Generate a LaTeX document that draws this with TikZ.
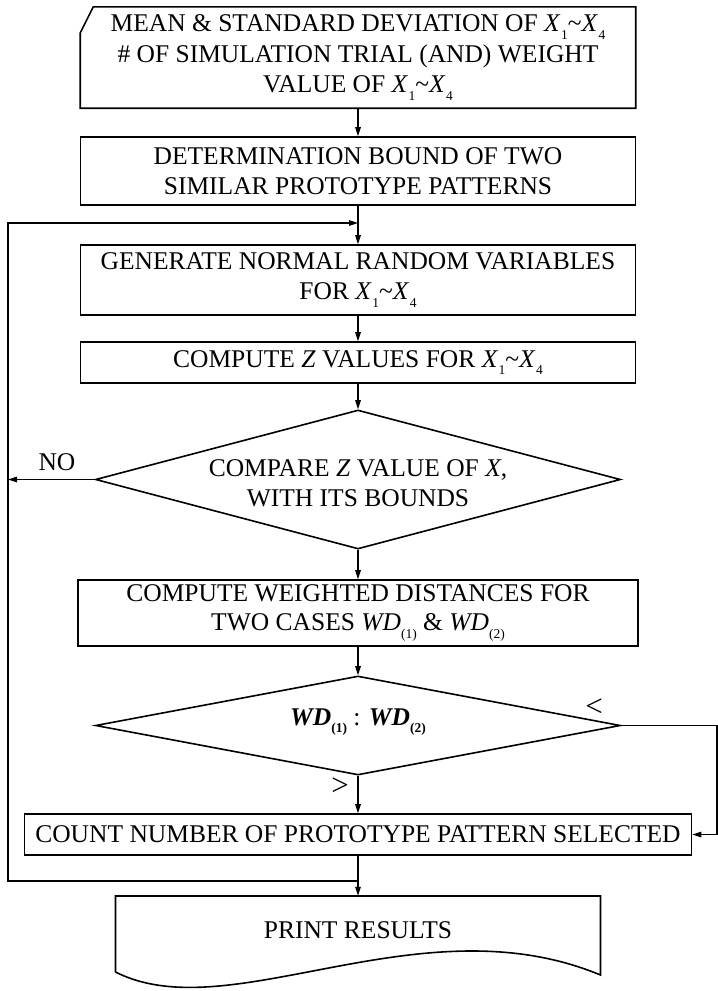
\documentclass[tikz,border=0pt]{standalone}
\usepackage{fontspec}
\setmainfont{Liberation Serif}
\usetikzlibrary{shapes.geometric,arrows.meta}
\newcommand\sbs[1]{\raisebox{-0.3em}{\fontsize{13.5bp}{13.5bp}\selectfont #1}}
\newcommand\Xs[1]{\textit{X}\kern0.02em\sbs{#1}}
\newcommand\rng{\Xs{1}\textasciitilde\Xs{4}}
\newcommand\WDs[1]{\textit{WD}\sbs{#1}}
\begin{document}
\begin{tikzpicture}[x=1bp,y=-1bp,
  txt/.style={font=\fontsize{25.5bp}{29.5bp}\selectfont, align=center, inner sep=0},
  box/.style={txt, draw, line width=1.6bp, minimum width=555bp},
  plain/.style={txt, minimum width=555bp},
  dia/.style={diamond, draw, line width=1.6bp, inner sep=0, minimum width=525bp},
  cmp/.style={font=\fontsize{31bp}{31bp}\selectfont, inner sep=0},
  conn/.style={line width=1.2bp},
  arr/.style={conn, -{Triangle[length=9bp,width=5.5bp]}}]
\useasboundingbox (0,0) rectangle (718,991);

% input card
\node[plain, minimum height=101bp, font=\fontsize{25.5bp}{30.5bp}\selectfont] (b1) at (358,57.5)
  {MEAN \& STANDARD DEVIATION OF \rng\\
   \# OF SIMULATION TRIAL (AND) WEIGHT\\
   VALUE OF \rng};
\draw[line width=1.6bp] ([yshift=-26bp]b1.north west) -- ([xshift=13bp]b1.north west)
  -- (b1.north east) -- (b1.south east) -- (b1.south west) -- cycle;

\node[box, minimum height=68bp] (b2) at (358,171)
  {DETERMINATION BOUND OF TWO\\ SIMILAR PROTOTYPE PATTERNS};
\node[box, minimum height=70bp] (b3) at (358,280)
  {GENERATE NORMAL RANDOM VARIABLES\\ FOR \rng};
\node[box, minimum height=41bp] (b4) at (358,362.5)
  {COMPUTE \textit{Z} VALUES FOR \rng};

\node[dia, minimum height=139bp] (d1) at (358,479.5) {};
\node[txt] (t1) at (358,483) {COMPARE \textit{Z} VALUE OF \textit{X},\\ WITH ITS BOUNDS};

\node[box, minimum width=560bp, minimum height=66bp] (b5) at (358,613)
  {COMPUTE WEIGHTED DISTANCES FOR\\ TWO CASES \WDs{(1)} \& \WDs{(2)}};

\node[dia, minimum height=99bp] (d2) at (358,725.5) {};
\node[txt] (t2) at (358,722) {\textbf{\WDs{(1)}} : \textbf{\WDs{(2)}}};

\node[box, minimum width=667bp, minimum height=41bp] (b6) at (358,834.5)
  {COUNT NUMBER OF PROTOTYPE PATTERN SELECTED};

\node[txt, minimum width=485bp, minimum height=68bp] (pr) at (358,930) {PRINT RESULTS};
\draw[line width=1.6bp] (115.5,972) -- (115.5,896) -- (600.5,896) -- (600.5,975)
  .. controls (420,900) and (230,1030) .. (115.5,972);

% labels
\node[txt] (lno) at (57,462) {NO};
\node[cmp] (llt) at (594,708) {<};
\node[cmp] (lgt) at (340,787) {>};

% loop coordinates
\coordinate (j1) at (358,223);
\coordinate (j2) at (358,881);
\coordinate (lb) at (8,881);
\coordinate (lt) at (8,223);
\coordinate (no) at (8,479.5);
\coordinate (r1) at (717,725.5);
\coordinate (r2) at (717,834.5);

% connectors
\draw[arr] (b1.south) -- (b2.north);
\draw[arr] (b2.south) -- (b3.north);
\draw[arr] (j2) -- (lb) -- (lt) -- (j1);
\draw[arr] (b3.south) -- (b4.north);
\draw[arr] (b4.south) -- (d1.north);
\draw[arr] (d1.west) -- (no);
\draw[arr] (d1.south) -- (b5.north);
\draw[arr] (b5.south) -- (d2.north);
\draw[arr] (d2.south) -- (b6.north);
\draw[arr] (d2.east) -- (r1) -- (r2) -- (b6.east);
\draw[arr] (b6.south) -- (pr.north);
\end{tikzpicture}
\end{document}
